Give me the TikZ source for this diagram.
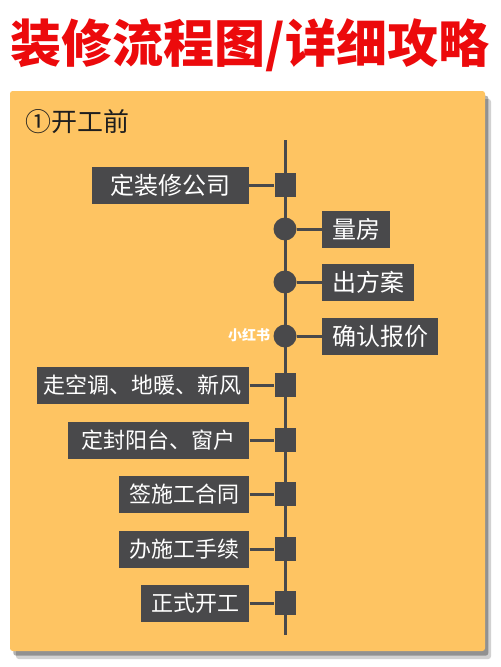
\documentclass[tikz,border=0pt]{standalone}
\usepackage{fontspec}
\setmainfont{Noto Sans CJK SC}
\usetikzlibrary{positioning, shadows}
\definecolor{zxred}{HTML}{EC0A0C}
\definecolor{zxorange}{HTML}{FEC462}
\definecolor{zxdark}{HTML}{49494B}
\definecolor{zxtext}{HTML}{1E1E1E}
\newcommand{\pxfont}[1]{\fontsize{#1}{#1}\selectfont}

\begin{document}
\begin{tikzpicture}[
  x=0.75pt, y=-0.75pt,
  stepbox/.style={rectangle, fill=zxdark, text=white, minimum height=27.75pt, inner xsep=7.5pt, inner ysep=0pt, font=\pxfont{16.5pt}},
  bigbox/.style={stepbox, font=\pxfont{18pt}},
  sqmark/.style={rectangle, fill=zxdark, minimum width=15.75pt, minimum height=18pt, inner sep=0pt},
  dotmark/.style={circle, fill=zxdark, minimum size=17.25pt, inner sep=0pt},
  link/.style={draw=zxdark, line width=2.25pt},
]
\useasboundingbox (0,0) rectangle (500,667);
\fill[white] (0,0) rectangle (500,667);

% title
\node[font=\pxfont{38.25pt}\bfseries, text=zxred] (title) at (250,45) {装修流程图/详细攻略};

% panel
\fill[zxorange, rounded corners=2pt,
  drop shadow={shadow xshift=4.5pt, shadow yshift=-6pt, fill=black, opacity=0.18},
  drop shadow={shadow xshift=2.5pt, shadow yshift=-3.5pt, fill=black, opacity=0.3}]
  (10,91) rectangle (485,651);
\node[anchor=west, font=\pxfont{19.5pt}, text=zxtext] (stage) at (21,122) {①开工前};

% spine
\coordinate (top) at (285,140);
\coordinate (bot) at (285,635);
\draw[link] (top) -- (bot);

% markers
\node[sqmark] (m1) at (285,185) {};
\node[dotmark] (m2) at (285,229) {};
\node[dotmark] (m3) at (285,282) {};
\node[dotmark] (m4) at (285,336) {};
\node[sqmark] (m5) at (285,385) {};
\node[sqmark] (m6) at (285,440) {};
\node[sqmark] (m7) at (285,494) {};
\node[sqmark] (m8) at (285,549) {};
\node[sqmark] (m9) at (285,603) {};

% steps
\node[bigbox, minimum width=117.75pt, left=19pt of m1] (b1) {定装修公司};
\node[bigbox, right=19pt of m2] (b2) {量房};
\node[bigbox, right=19pt of m3] (b3) {出方案};
\node[bigbox, right=19pt of m4] (b4) {确认报价};
\node[stepbox, inner xsep=5.5pt, left=18.5pt of m5] (b5) {走空调、地暖、新风};
\node[stepbox, minimum width=135.75pt, left=18.5pt of m6] (b6) {定封阳台、窗户};
\node[stepbox, left=18.5pt of m7] (b7) {签施工合同};
\node[stepbox, left=18.5pt of m8] (b8) {办施工手续};
\node[stepbox, left=18.5pt of m9] (b9) {正式开工};

\draw[link] (b1) -- (m1);
\draw[link] (m2) -- (b2);
\draw[link] (m3) -- (b3);
\draw[link] (m4) -- (b4);
\draw[link] (b5) -- (m5);
\draw[link] (b6) -- (m6);
\draw[link] (b7) -- (m7);
\draw[link] (b8) -- (m8);
\draw[link] (b9) -- (m9);

% watermark
\node[font=\pxfont{10.5pt}\bfseries, text=white] (mark) at (249,335) {小红书};
\end{tikzpicture}
\end{document}
